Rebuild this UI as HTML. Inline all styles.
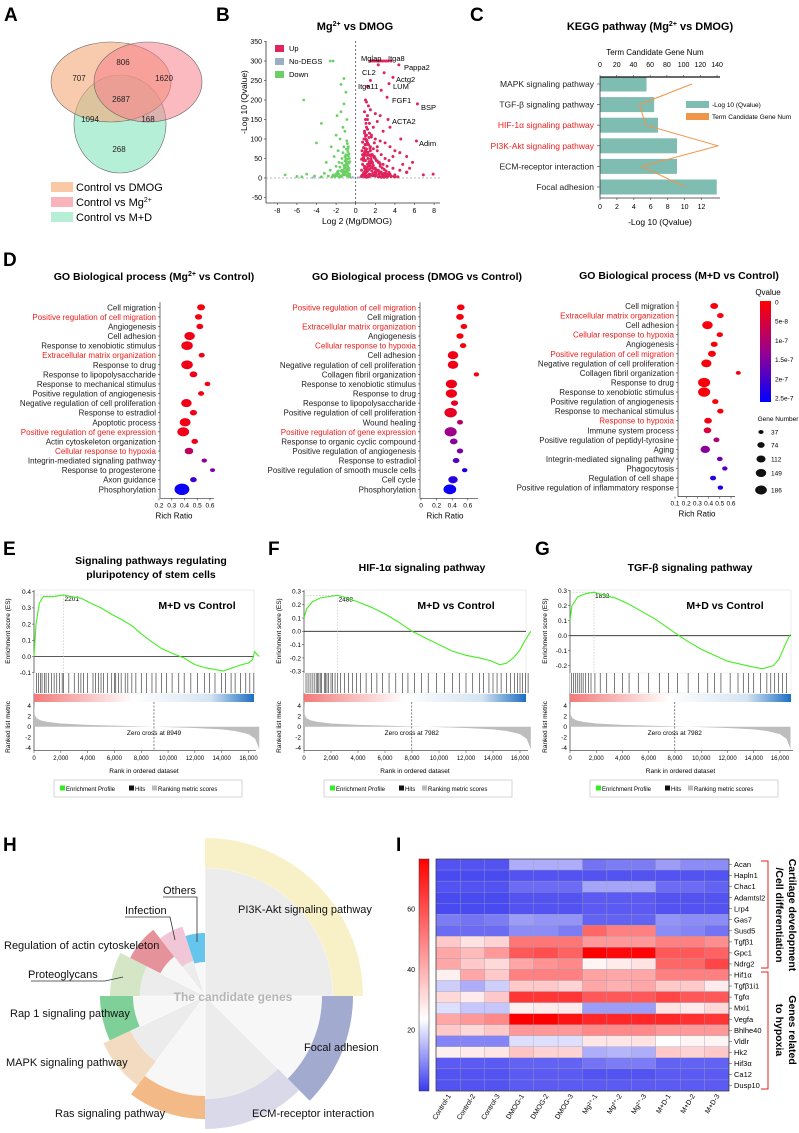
<!DOCTYPE html>
<html><head><meta charset="utf-8"><style>
html,body{margin:0;padding:0;background:#fff;}
svg{display:block;font-family:"Liberation Sans",Arial,sans-serif;}
</style></head><body>
<svg id="fig" width="799" height="1133" viewBox="0 0 799 1133" xmlns="http://www.w3.org/2000/svg">
<defs>
<linearGradient id="qgrad" x1="0" y1="0" x2="0" y2="1"><stop offset="0" stop-color="#ff0000"/><stop offset="0.5" stop-color="#9a0090"/><stop offset="1" stop-color="#0000ff"/></linearGradient>
<linearGradient id="hmgrad" x1="0" y1="0" x2="0" y2="1"><stop offset="0" stop-color="#ff0000"/><stop offset="0.69" stop-color="#ffffff"/><stop offset="1" stop-color="#3a3af0"/></linearGradient>
<linearGradient id="rankgrad" x1="0" y1="0" x2="1" y2="0"><stop offset="0" stop-color="#f27a7a"/><stop offset="0.45" stop-color="#ffffff"/><stop offset="0.8" stop-color="#d6e4f2"/><stop offset="1" stop-color="#1c6fc2"/></linearGradient>
</defs>
<g font-weight="bold" font-size="19">
<text x="4" y="21">A</text>
<text x="216" y="21">B</text>
<text x="470" y="21">C</text>
<text x="3" y="266">D</text>
<text x="3" y="555">E</text>
<text x="268" y="555">F</text>
<text x="535" y="555">G</text>
<text x="3" y="851">H</text>
<text x="396" y="851">I</text>
</g>
<g stroke="#666" stroke-width="0.6">
<ellipse cx="120" cy="124" rx="46" ry="49" fill="#8fe7c2" fill-opacity="0.65"/>
<ellipse cx="111" cy="82" rx="60" ry="40" fill="#f5a978" fill-opacity="0.6"/>
<ellipse cx="148" cy="82" rx="54" ry="40" fill="#f77f8c" fill-opacity="0.55"/>
</g>
<g font-size="8" text-anchor="middle" fill="#222">
<text x="79" y="81">707</text>
<text x="123" y="65">806</text>
<text x="164" y="81">1620</text>
<text x="121" y="102">2687</text>
<text x="90" y="122">1094</text>
<text x="148" y="122">168</text>
<text x="119" y="152">268</text>
</g>
<g font-size="11">
<rect x="51" y="182" width="22" height="10" fill="#f9c9a5"/>
<text x="76" y="191">Control vs DMOG</text>
<rect x="51" y="197" width="22" height="10" fill="#f9b4bb"/>
<text x="76" y="206">Control vs Mg<tspan font-size="7" dy="-4">2+</tspan></text>
<rect x="51" y="212" width="22" height="10" fill="#b7eed6"/>
<text x="76" y="221">Control vs M+D</text>
</g>
<text x="355" y="30" font-size="11" font-weight="bold" text-anchor="middle">Mg<tspan font-size="7" dy="-4">2+</tspan><tspan dy="4"> vs DMOG</tspan></text>
<text transform="translate(247,102) rotate(-90)" font-size="8.5" text-anchor="middle">-Log 10 (Qvalue)</text>
<text x="357" y="224" font-size="8.5" text-anchor="middle">Log 2 (Mg/DMOG)</text>
<g font-size="7.5">
<rect x="275" y="45" width="9" height="7" fill="#e0245e"/><text x="289" y="51">Up</text>
<rect x="275" y="58" width="9" height="7" fill="#9aaec4"/><text x="289" y="64">No-DEGS</text>
<rect x="275" y="71" width="9" height="7" fill="#6cd067"/><text x="289" y="77">Down</text>
</g>
<g id="volcano"></g>
<text x="650" y="30" font-size="11" font-weight="bold" text-anchor="middle">KEGG pathway (Mg<tspan font-size="7" dy="-4">2+</tspan><tspan dy="4"> vs DMOG)</tspan></text>
<text x="655" y="55" font-size="8" text-anchor="middle">Term Candidate Gene Num</text>
<text x="660" y="225" font-size="8.5" text-anchor="middle">-Log 10 (Qvalue)</text>
<g font-size="6.5">
<rect x="686" y="101" width="23" height="7" fill="#7fbcb1"/><text x="712" y="107">-Log 10 (Qvalue)</text>
<rect x="686" y="113" width="23" height="7" fill="#f0954a"/><text x="712" y="119">Term Candidate Gene Num</text>
</g>
<g id="kegg"></g>
<g font-size="10.5" font-weight="bold" text-anchor="middle">
<text x="154" y="280">GO Biological process (Mg<tspan font-size="7" dy="-4">2+</tspan><tspan dy="4"> vs  Control)</tspan></text>
<text x="417" y="280">GO Biological process (DMOG vs  Control)</text>
<text x="679" y="279">GO Biological process (M+D vs  Control)</text>
</g>
<g id="go"></g>
<text x="768" y="295" font-size="8" text-anchor="middle">Qvalue</text>
<rect x="760" y="301" width="11" height="101" fill="url(#qgrad)"/>
<text x="778" y="421" font-size="6.5" text-anchor="middle">Gene Number</text>
<g font-size="10.5" font-weight="bold" text-anchor="middle">
<text x="151" y="564">Signaling pathways regulating</text>
<text x="151" y="578">pluripotency of stem cells</text>
<text x="422" y="571">HIF-1α signaling pathway</text>
<text x="690" y="571">TGF-β signaling pathway</text>
</g>
<g id="gsea"></g>
<g id="rose"></g>
<text x="233" y="1001" font-size="12" font-weight="bold" fill="#b5b5b5" text-anchor="middle">The candidate genes</text>
<g font-size="11" fill="#111">
<text x="238" y="913">PI3K-Akt signaling pathway</text>
<text x="304" y="1051">Focal adhesion</text>
<text x="252" y="1117">ECM-receptor interaction</text>
<text x="55" y="1117">Ras signaling pathway</text>
<text x="6" y="1066">MAPK signaling pathway</text>
<text x="10" y="1017">Rap 1 signaling pathway</text>
<text x="28" y="978">Proteoglycans</text>
<text x="4" y="949">Regulation of actin cytoskeleton</text>
<text x="125" y="914">Infection</text>
<text x="163" y="894">Others</text>
</g>
<g stroke="#333" stroke-width="0.8" fill="none">
<polyline points="163,897 197,897 197,942"/>
<polyline points="125,917 170,917 175,940"/>
<polyline points="31,981 105,981 123,977"/>
</g>
<rect x="419" y="859" width="10" height="232" fill="url(#hmgrad)" stroke="#333" stroke-width="0.5"/>
<g id="heat"></g>
<g stroke="#e0201e" stroke-width="1" fill="none">
<polyline points="761,861 768,861 768,968 761,968"/>
<polyline points="761,972 768,972 768,1089 761,1089"/>
</g>
<g font-size="10.5" font-weight="bold" text-anchor="middle">
<text transform="translate(789,915) rotate(90)">Cartilage development</text>
<text transform="translate(776,915) rotate(90)">/Cell differentiation</text>
<text transform="translate(789,1030) rotate(90)">Genes related</text>
<text transform="translate(776,1030) rotate(90)">to hypoxia</text>
</g>
</svg>
<script>
const NS='http://www.w3.org/2000/svg';
function mk(tag,attrs,parent){const e=document.createElementNS(NS,tag);for(const k in attrs)e.setAttribute(k,attrs[k]);parent.appendChild(e);return e;}
function txt(str,attrs,parent){const e=mk('text',attrs,parent);e.textContent=str;return e;}

const volcanoXTicks=[-8,-6,-4,-2,0,2,4,6,8];
const volcanoYTicks=[350,300,250,200,150,100,50,0,-50];
const upX=[1.5,1.7,1.9,2.1,2.3,2.5,2.7,2.9,3.1,3.3,3.6,4.4,2.3,2.9,3.8,1.5,3.4,2.6,1.2,3.2,6.3,3.3,6.2,7.9,6.9,5.2,1.0,1.1,1.3,0.9,1.2,1.5,2.0,2.5,1.0,1.4,1.8,2.2,2.8,1.1,0.9,1.6,2.0,2.5,3.0,3.5,4.0,4.5,3.8,1.0,1.2,1.5,1.8,2.2,2.6,3.0,3.4,1.0,1.3,1.6,2.0,2.4,2.8,3.2,3.8,4.5,5.2,5.8,4.8,1.0,1.2,1.5,1.8,2.1,2.5,3.0,3.5,4.0,0.9,1.1,1.4,1.7,2.0,2.4,2.8,1.0,1.3,0.8,3.5,4.6,5.2,5.5,0.7,0.8,0.9,1.0,1.1,1.2,0.6,0.7,0.8,0.9,1.0,1.1,1.3,1.5,1.7,1.9,2.1,2.3,1.4,1.6,1.9,2.2,0.6,0.8,1.0,1.2,1.4,1.7,2.0,2.3,2.6,2.9,3.2,0.9,1.2,1.5,1.8,2.1,2.4,2.7,3.0,3.3,3.6,4.0,4.3,1.1,1.4,1.7,2.0,2.3,2.6,2.9,3.2,
0.6,0.7,0.8,0.9,1.0,1.1,1.2,1.3,1.4,1.5,1.6,1.7,1.8,1.9,2.0,2.1,0.6,0.75,0.85,0.95,1.05,1.15,1.25,1.35,1.45,1.55,1.65,1.75,1.85,0.65,0.8,0.95,1.1,1.25,1.4,1.55,1.7,0.7,0.85,1.0,1.15,1.3,1.45,2.2,2.4,2.6,2.8,3.0,3.3,3.6,3.9,2.5,2.7,2.9,3.1,3.4,1.6,1.9,2.2,2.5,1.05,1.2,0.9,1.35];
const upY=[300,300,300,300,300,300,300,300,300,300,300,290,290,270,258,250,242,225,235,207,190,150,95,10,8,14,200,195,185,170,160,175,165,160,150,140,130,145,120,130,115,110,100,95,90,80,70,65,55,100,90,80,75,70,60,50,45,70,60,55,50,40,35,30,25,20,15,40,35,45,35,30,25,20,15,12,10,8,25,15,10,8,5,4,3,5,3,10,130,100,55,25,60,45,30,85,110,125,20,35,50,65,75,95,85,70,60,55,45,40,115,105,90,80,5,8,12,18,22,28,25,20,15,12,10,3,6,9,12,14,10,8,6,5,4,3,3,2,4,6,8,3,2,2,2,
4,8,12,16,20,24,28,32,36,40,44,40,32,24,16,8,48,52,56,62,66,58,50,42,34,26,18,10,6,70,78,86,74,66,58,48,38,92,100,108,96,86,76,20,16,12,9,7,6,5,4,30,26,22,18,14,60,52,44,36,140,150,120,104];
const downX=[-2.3,-2.6,-5.3,-1.2,-1.5,-3.5,-4,-7.2,-5.5,-4.2,-1.0,-1.2,-1.5,-0.9,-1.3,-2.0,-1.1,-1.6,-2.5,-0.9,-1.2,-1.8,-2.2,-3.0,-1.0,-1.4,-1.7,-2.0,-2.6,-3.2,-0.8,-1.1,-1.4,-1.8,-2.3,-0.9,-1.2,-0.8,-1.5,-2.8,-3.5,-5,-6,-0.8,-0.7,-1.9,-0.6,-0.7,-0.9,-1.0,-1.1,-1.3,-0.6,-0.8,-1.0,-1.2,-1.4,-1.6,-0.7,-0.9,-1.1,-1.3,-1.5,-1.7,-1.9,-2.1,-2.4,
-0.6,-0.7,-0.8,-0.9,-1.0,-1.1,-1.2,-1.3,-1.4,-1.5,-1.6,-1.7,-0.65,-0.75,-0.85,-0.95,-1.05,-1.15,-1.25,-1.35,-0.7,-0.8,-0.9,-1.0,-1.1,-0.75,-0.85,-0.95,-1.9,-2.0,-2.2,-1.8];
const downY=[300,300,200,255,240,140,90,8,3,5,220,190,170,150,130,110,120,100,80,95,80,70,55,40,60,50,40,30,20,12,40,30,20,12,8,15,8,5,4,5,3,10,4,75,25,160,10,20,35,45,55,65,5,12,25,32,38,28,3,6,9,14,18,10,6,4,3,
42,38,30,22,18,14,10,8,6,4,3,2,50,56,48,40,34,26,20,16,62,68,58,50,44,80,88,74,14,10,6,18];
const grayX=[-0.5,-0.3,0.2,0.4,-3.6,-4.4];
const grayY=[1,2,1,2,2,1];
(function(){
  const g=document.getElementById('volcano');
  const xs=v=>355.7+9.8*v, ys=v=>178-0.39*v;
  const ax=mk('line',{x1:266,y1:41,x2:266,y2:203,stroke:'#333','stroke-width':0.8},g);
  
  
  const bx=mk('line',{x1:266,y1:203,x2:440,y2:203,stroke:'#333','stroke-width':0.8},g);
  
  
  volcanoYTicks.forEach(v=>{
    const t=txt(String(v),{x:262,y:ys(v)+2.5,'font-size':7,'text-anchor':'end'},g);
    
    
    mk('line',{x1:264,y1:ys(v),x2:266,y2:ys(v),stroke:'#333','stroke-width':0.6},g);
  });
  volcanoXTicks.forEach(v=>{
    const t=txt(String(v),{x:xs(v),y:213,'font-size':7,'text-anchor':'middle'},g);
    
    
    mk('line',{x1:xs(v),y1:203,x2:xs(v),y2:205,stroke:'#333','stroke-width':0.6},g);
  });
  const h=mk('line',{x1:266,y1:ys(0),x2:440,y2:ys(0),stroke:'#777','stroke-width':0.6,'stroke-dasharray':'2,2'},g);
  
  const vl=mk('line',{x1:xs(0),y1:41,x2:xs(0),y2:203,stroke:'#333','stroke-width':0.7,'stroke-dasharray':'2,2'},g);
  
  grayX.forEach((x,i)=>{const c=mk('circle',{cx:xs(x),cy:ys(grayY[i]),r:1.1,fill:'#9aaec4'},g);
    });
  downX.forEach((x,i)=>{const c=mk('circle',{cx:xs(x),cy:ys(downY[i]),r:1.4,fill:'#6cd067'},g);
    });
  upX.forEach((x,i)=>{const c=mk('circle',{cx:xs(x),cy:ys(upY[i]),r:1.5,fill:'#e0245e'},g);
    });
  const labs=[['Mglap',361,61],['Itga8',388,61],['Pappa2',404,70],['CL2',362,75],['Actg2',396,82],['Itga11',358,89],['LUM',393,89],['FGF1',392,103],['BSP',421,110],['ACTA2',392,124],['Adim',419,146]];
  labs.forEach(l=>{const t=txt(l[0],{x:l[1],y:l[2],'font-size':7.5},g);
    
    });
})();

const keggPathways=['MAPK signaling pathway','TGF-β signaling pathway','HIF-1α signaling pathway','PI3K-Akt signaling pathway','ECM-receptor interaction','Focal adhesion'];
const keggLogQ=[5.5,6.4,6.85,9.1,9.1,13.8];
const keggGeneNum=[110,47,55,141,50,102];
const keggQTicks=[0,2,4,6,8,10,12];
const keggGeneTicks=[0,20,40,60,80,100,120,140];
(function(){
  const g=document.getElementById('kegg');
  const xq=v=>600+8.46*v, xn=v=>600+0.836*v, yc=i=>84+i*20.6;
  keggPathways.forEach((p,i)=>{
    const b=mk('rect',{x:600,y:yc(i)-7.5,width:xq(keggLogQ[i])-600,height:15,fill:'#7fbcb1'},g);
    
    
    const red=(i==2||i==3);
    const t=txt(p,{x:594,y:yc(i)+3,'font-size':8.5,'text-anchor':'end',fill:red?'#ee1c1c':'#222'},g);
    
    
    mk('line',{x1:597,y1:yc(i),x2:600,y2:yc(i),stroke:'#333','stroke-width':0.6},g);
  });
  const pts=keggGeneNum.map((n,i)=>xn(n)+','+yc(i)).join(' ');
  const ln=mk('polyline',{points:pts,fill:'none',stroke:'#f0954a','stroke-width':1},g);
  
  
  const l1=mk('line',{x1:600,y1:77,x2:600,y2:198,stroke:'#333','stroke-width':0.8},g);
  
  const l2=mk('line',{x1:600,y1:198,x2:720,y2:198,stroke:'#333','stroke-width':0.8},g);
  
  const l3=mk('line',{x1:600,y1:77,x2:720,y2:77,stroke:'#111','stroke-width':1.2},g);
  
  keggQTicks.forEach(v=>{
    const t=txt(String(v),{x:xq(v),y:209,'font-size':7,'text-anchor':'middle'},g);
    
    
    mk('line',{x1:xq(v),y1:198,x2:xq(v),y2:200,stroke:'#333','stroke-width':0.6},g);
  });
  keggGeneTicks.forEach(v=>{
    const t=txt(String(v),{x:xn(v),y:67,'font-size':7,'text-anchor':'middle'},g);
    
    
    mk('line',{x1:xn(v),y1:75,x2:xn(v),y2:77,stroke:'#333','stroke-width':0.6},g);
  });
})();

const goTerms1=['Cell migration','Positive regulation of cell migration','Angiogenesis','Cell adhesion','Response to xenobiotic stimulus','Extracellular matrix organization','Response to drug','Response to lipopolysaccharide','Response to mechanical stimulus','Positive regulation of angiogenesis','Negative regulation of cell proliferation','Response to estradiol','Apoptotic process','Positive regulation of gene expression','Actin cytoskeleton organization','Cellular response to hypoxia','Integrin-mediated signaling pathway','Response to progesterone','Axon guidance','Phosphorylation'];
const goRed1=[1,5,13,15];
const goRich1=[.53,.51,.52,.44,.42,.535,.42,.47,.58,.53,.415,.47,.405,.39,.48,.435,.555,.62,.47,.38];
const goGenes1=[85,70,65,150,180,50,180,80,45,50,150,70,160,190,60,100,40,35,60,300];
const goQ1=[0.1,0.15,0.15,0.2,0.2,0.15,0.2,0.2,0.15,0.15,0.2,0.2,0.2,0.2,0.2,0.8,1.3,1.5,2.0,2.4];
const goTerms2=['Positive regulation of cell migration','Cell migration','Extracellular matrix organization','Angiogenesis','Cellular response to hypoxia','Cell adhesion','Negative regulation of cell proliferation','Collagen fibril organization','Response to xenobiotic stimulus','Response to drug','Response to lipopolysaccharide','Positive regulation of cell proliferation','Wound healing','Positive regulation of gene expression','Response to organic cyclic compound','Positive regulation of angiogenesis','Response to estradiol','Positive regulation of smooth muscle cells','Cell cycle','Phosphorylation'];
const goRed2=[0,2,4,13];
const goRich2=[.51,.50,.55,.50,.54,.41,.41,.71,.39,.39,.43,.38,.50,.38,.42,.50,.45,.56,.41,.37];
const goGenes2=[80,80,60,70,55,150,150,40,170,170,70,210,50,200,80,55,60,40,120,220];
const goQ2=[0.1,0.1,0.1,0.1,0.1,0.2,0.2,0.1,0.2,0.2,0.3,0.3,0.9,1.2,1.4,1.5,1.8,2.3,2.2,2.4];
const goTerms3=['Cell migration','Extracellular matrix organization','Cell adhesion','Cellular response to hypoxia','Angiogenesis','Positive regulation of cell migration','Negative regulation of cell proliferation','Collagen fibril organization','Response to drug','Response to xenobiotic stimulus','Positive regulation of angiogenesis','Response to mechanical stimulus','Response to hypoxia','Immune system process','Positive regulation of peptidyl-tyrosine','Aging','Integrin-mediated signaling pathway','Phagocytosis','Regulation of cell shape','Positive regulation of inflammatory response'];
const goRed3=[1,3,5,12];
const goRich3=[.45,.505,.39,.50,.45,.43,.38,.665,.36,.36,.46,.505,.395,.39,.47,.37,.50,.545,.44,.505];
const goGenes3=[85,60,150,55,65,85,140,35,200,200,55,55,80,80,50,120,45,40,50,40];
const goQ3=[0.1,0.1,0.1,0.1,0.1,0.1,0.1,0.1,0.1,0.1,0.1,0.1,0.2,0.5,1.0,1.4,1.6,1.8,2.2,2.3];
const goTicks1=[0.2,0.3,0.4,0.5,0.6];
const goTicks2=[0,0.2,0.4,0.6];
const goTicks3=[0.1,0.2,0.3,0.4,0.5,0.6];
const qLegendTicks=['0','5e-8','1e-7','1.5e-7','2e-7','2.5e-7'];
const geneLegend=[37,74,112,149,186];
function qColor(q){const t=Math.min(1,q/2.5);let r,gg,b;
  if(t<0.5){const s=t/0.5;r=255+(154-255)*s;gg=0;b=144*s;}else{const s=(t-0.5)/0.5;r=154*(1-s);gg=0;b=144+(255-144)*s;}
  return 'rgb('+Math.round(r)+','+Math.round(gg)+','+Math.round(b)+')';}
function bubR(n){return 0.33*Math.sqrt(n);}
function drawGO(terms,red,rich,genes,q,ticks,axisX,xs,y0,step,xEnd,rrX){
  const g=document.getElementById('go');
  terms.forEach((t,i)=>{
    const y=y0+i*step;
    const lab=txt(t,{x:axisX-4,y:y+3,'font-size':8,'text-anchor':'end',fill:red.includes(i)?'#ee1c1c':'#222'},g);
    
    
    mk('line',{x1:axisX-2,y1:y,x2:axisX,y2:y,stroke:'#333','stroke-width':0.6},g);
    const r=bubR(genes[i]);
    const b=mk('ellipse',{cx:xs(rich[i]),cy:y,rx:r*1.3,ry:r,fill:qColor(q[i])},g);
    
    
  });
  const yb=y0+(terms.length-1)*step+9;
  const a1=mk('line',{x1:axisX,y1:y0-5,x2:axisX,y2:yb,stroke:'#333','stroke-width':0.7},g);
  
  const a2=mk('line',{x1:axisX,y1:yb,x2:xEnd,y2:yb,stroke:'#333','stroke-width':0.7},g);
  
  ticks.forEach(v=>{
    const t=txt(String(v),{x:xs(v),y:yb+9,'font-size':6.5,'text-anchor':'middle'},g);
    
    
    mk('line',{x1:xs(v),y1:yb,x2:xs(v),y2:yb+2,stroke:'#333','stroke-width':0.6},g);
  });
  const rr=txt('Rich Ratio',{x:rrX,y:yb+20,'font-size':8,'text-anchor':'middle'},g);
  
  
}
drawGO(goTerms1,goRed1,goRich1,goGenes1,goQ1,goTicks1,160,v=>159+(v-0.2)*127.5,307.3,9.58,214,174);
drawGO(goTerms2,goRed2,goRich2,goGenes2,goQ2,goTicks2,420,v=>421+78*v,307.3,9.58,478,445);
drawGO(goTerms3,goRed3,goRich3,goGenes3,goQ3,goTicks3,678,v=>675+(v-0.1)*112,306,9.56,735,697);
(function(){
  const g=document.getElementById('go');
  qLegendTicks.forEach((s,i)=>{
    const y=302+i*19.2;
    const t=txt(s,{x:775,y:y+2.5,'font-size':6.5},g);
    
    
  });
  const gy=[432,445,459,473,490];
  geneLegend.forEach((n,i)=>{
    const r=bubR(n);
    const c=mk('ellipse',{cx:761,cy:gy[i],rx:r*1.3,ry:r,fill:'#111'},g);
    
    const t=txt(String(n),{x:771,y:gy[i]+2.5,'font-size':6.5},g);
    
    
  });
})();

const esRanksE=[0,150,400,700,1000,1500,2201,2800,3500,4200,5000,5800,6500,7300,8000,8800,9500,10300,11200,12000,12800,13500,14100,14800,15500,16000,16300,16450,16800];
const esValsE=[0,0.2,0.33,0.37,0.37,0.37,0.38,0.37,0.36,0.33,0.3,0.26,0.23,0.19,0.14,0.09,0.05,0.02,-0.01,-0.05,-0.07,-0.08,-0.09,-0.07,-0.05,-0.04,-0.02,0.03,0.0];
const hitsE=[200,350,500,600,800,900,1100,1300,1500,1700,1900,2100,2200,2600,3000,3300,3500,3700,4000,4400,4600,4800,5000,5200,5500,5800,6000,6100,6300,6500,6800,7000,7300,7600,8000,8400,8800,9100,9500,9900,10300,10800,11200,11700,12200,12700,13100,13500,14000,14300,14700,15000,15400,15800,16100,16400];
const esRanksF=[0,200,600,1200,1800,2488,3200,4000,5000,6000,7000,8000,9000,10000,11000,12000,13000,13800,14500,15000,15500,16000,16300,16800];
const esValsF=[0.1,0.17,0.22,0.25,0.26,0.27,0.25,0.22,0.18,0.13,0.07,0.0,-0.05,-0.1,-0.15,-0.18,-0.2,-0.22,-0.25,-0.24,-0.2,-0.14,-0.08,0.0];
const hitsF=[150,300,450,600,750,900,1000,1100,1200,1300,1500,1600,1700,1800,2000,2100,2300,2500,2700,3000,3300,3600,3900,4200,4600,5000,5400,5800,6300,6800,7300,7700,8200,8700,9200,9800,10400,11000,11500,12000,12500,13000,13300,13700,14000,14300,14600,15000,15300,15600,15800,16000,16200,16400,16600];
const esRanksG=[0,150,600,1200,1833,2600,3500,4500,5500,6500,7500,8300,9200,10000,11000,12000,13000,14000,14700,15500,15900,16200,16500,16800];
const esValsG=[0.1,0.2,0.26,0.28,0.29,0.27,0.25,0.21,0.16,0.11,0.05,0.0,-0.05,-0.09,-0.13,-0.17,-0.19,-0.21,-0.22,-0.2,-0.16,-0.1,-0.04,0.01];
const hitsG=[100,250,400,550,700,850,1000,1200,1400,1600,1900,2300,2800,3400,4000,4500,5200,6000,6800,7500,8200,9000,9800,10500,11000,11500,12200,12800,13200,13600,14000,14500,15000,15300,15600,15900,16200,16500];
const metricRanks=[0,60,200,500,1000,2000,4000,6000,8000,9000,10000,12000,14000,15000,16000,16500,16800];
const metricVals=[4.5,2.2,1.6,1.2,0.9,0.6,0.35,0.2,0.05,0,-0.08,-0.25,-0.5,-0.8,-1.4,-2.3,-4.2];
const peakRanks=[2201,2488,1833];
const zeroCross=[8949,7982,7982];
const rankTicks=[0,2000,4000,6000,8000,10000,12000,14000,16000];
const metricTicks=[4,2,0,-2,-4];
const esTicksE=[0.4,0.3,0.2,0.1,0.0,-0.1];
const esTicksF=[0.3,0.2,0.1,0.0,-0.1,-0.2,-0.3];
const esTicksG=[0.3,0.2,0.1,0.0,-0.1,-0.2];
function drawGSEA(k,x0,pxPer,x1,ys,esTicks,ranks,vals,hits,mdX,ttlX,legX){
  const g=document.getElementById('gsea');
  const xs=r=>x0+r*pxPer;
  const ym=m=>726.7-5.3*m;
  const top=590;
  const ya=mk('line',{x1:x0,y1:top,x2:x0,y2:750.7,stroke:'#333','stroke-width':0.7},g);
  
  mk('line',{x1:x0,y1:top,x2:x1,y2:top,stroke:'#ddd','stroke-width':0.5},g);
  mk('line',{x1:x1,y1:top,x2:x1,y2:673,stroke:'#ddd','stroke-width':0.5},g);
  const zl=mk('line',{x1:x0,y1:ys(0),x2:x1,y2:ys(0),stroke:'#222','stroke-width':0.8},g);
  
  esTicks.forEach(v=>{
    const t=txt(v.toFixed(1),{x:x0-3,y:ys(v)+2.3,'font-size':6.5,'text-anchor':'end'},g);
    
    
    mk('line',{x1:x0-2,y1:ys(v),x2:x0,y2:ys(v),stroke:'#333','stroke-width':0.5},g);
  });
  const pk=peakRanks[k];
  let pv=vals[0];ranks.forEach((r,i)=>{if(Math.abs(r-pk)<1)pv=vals[i];});
  mk('polyline',{points:x0+','+ys(pv)+' '+xs(pk)+','+ys(pv)+' '+xs(pk)+','+673,fill:'none',stroke:'#bbb','stroke-width':0.6,'stroke-dasharray':'1.5,1.5'},g);
  const pt=txt(String(pk),{x:xs(pk)+1,y:ys(pv)+6,'font-size':6.5},g);
  
  
  const es=mk('polyline',{points:ranks.map((r,i)=>xs(r)+','+ys(vals[i])).join(' '),fill:'none',stroke:'#44ee22','stroke-width':1.1},g);
  
  
  const band=mk('rect',{x:x0,y:673,width:x1-x0,height:20,fill:'#fff',stroke:'#ddd','stroke-width':0.4},g);
  
  hits.forEach(h=>{const l=mk('line',{x1:xs(h),y1:673,x2:xs(h),y2:693,stroke:'#111','stroke-width':0.55},g);
    });
  const cb=mk('rect',{x:x0,y:694,width:x1-x0,height:8,fill:'url(#rankgrad)'},g);
  
  let pts=xs(0)+','+ym(0)+' ';
  pts+=metricRanks.map((r,i)=>xs(r)+','+ym(metricVals[i])).join(' ');
  pts+=' '+xs(metricRanks[metricRanks.length-1])+','+ym(0);
  const ar=mk('polygon',{points:pts,fill:'#bdbdbd'},g);
  
  
  metricTicks.forEach(v=>{
    const t=txt(String(v),{x:x0-3,y:ym(v)+2.3,'font-size':6.5,'text-anchor':'end'},g);
    
    
  });
  const zc=zeroCross[k];
  mk('line',{x1:xs(zc),y1:702,x2:xs(zc),y2:750,stroke:'#333','stroke-width':0.6,'stroke-dasharray':'2,1.5'},g);
  const zt=txt('Zero cross at '+zc,{x:xs(zc),y:735,'font-size':6.5,'text-anchor':'middle'},g);
  
  
  const xa=mk('line',{x1:x0,y1:750.7,x2:x1+2,y2:750.7,stroke:'#333','stroke-width':0.7},g);
  
  rankTicks.forEach(r=>{
    const t=txt(r.toLocaleString('en-US'),{x:xs(r),y:760,'font-size':6,'text-anchor':'middle'},g);
    
    
    mk('line',{x1:xs(r),y1:750.7,x2:xs(r),y2:753,stroke:'#333','stroke-width':0.5},g);
  });
  const xt=txt('Rank in ordered dataset',{x:(x0+x1)/2,y:773,'font-size':6.5,'text-anchor':'middle'},g);
  
  
  const y1t=txt('Enrichment score (ES)',{transform:'translate('+(ttlX)+',631) rotate(-90)','font-size':6.5,'text-anchor':'middle'},g);
  
  
  const y2t=txt('Ranked list metric',{transform:'translate('+(ttlX)+',727) rotate(-90)','font-size':6.5,'text-anchor':'middle'},g);
  
  
  const md=txt('M+D vs  Control',{x:mdX,y:609,'font-size':10.5,'font-weight':'bold','text-anchor':'middle'},g);
  
  
  const lb=mk('rect',{x:legX,y:780,width:188,height:17,fill:'#fff',stroke:'#ccc','stroke-width':0.8},g);
  
  
  const items=[['Enrichment Profile','#33ee22',6],['Hits','#111',75],['Ranking metric scores','#bbb',98]];
  items.forEach(it=>{
    const s=mk('rect',{x:legX+it[2],y:785.5,width:5,height:5,fill:it[1]},g);
    
    const t=txt(it[0],{x:legX+it[2]+6,y:791,'font-size':6},g);
    
    
  });
}
drawGSEA(0,34,214.5/16000,254,v=>656.5-162*v,esTicksE,esRanksE,esValsE,hitsE,197,10,54);
drawGSEA(1,304,216/16000,526,v=>631.3-133.3*v,esTicksF,esRanksF,esValsF,hitsF,456,281,324);
drawGSEA(2,570,210/16000,791,v=>635.7-150*v,esTicksG,esRanksG,esValsG,hitsG,725,547,590);

const roseNames=['PI3K-Akt','Focal adhesion','ECM-receptor','Ras','MAPK','Rap1','Proteoglycans','Actin cytoskeleton','Infection','Others'];
const roseSpan=[90,45,45,37,28,25,27,25,20,18];
const roseInner=[128,117,103,100,82,72,65,50,37,34];
const roseOuter=[158,148,133,123,112,105,95,84,73,63];
const roseColors=['#f8f1c8','#a3aad0','#d9d9ea','#f3b987','#f2dbc0','#7fcf98','#d5e6c7','#e5929b','#f1c6d7','#66c5ec'];
(function(){
  const g=document.getElementById('rose');
  const cx=205,cy=996;
  const P=(a,r)=>{const t=a*Math.PI/180;return (cx+Math.sin(t)*r).toFixed(1)+','+(cy-Math.cos(t)*r).toFixed(1);};
  function arcPts(a0,a1,r){const o=[];const n=Math.max(4,Math.ceil((a1-a0)/2));for(let i=0;i<=n;i++)o.push(P(a0+(a1-a0)*i/n,r));return o;}
  let a=0;
  roseSpan.forEach((s,i)=>{
    const a0=a,a1=a+s;
    const inner=mk('polygon',{points:[cx+','+cy].concat(arcPts(a0,a1,roseInner[i])).join(' '),fill:i%2?'#f7f7f7':'#ececec',stroke:'#fff','stroke-width':0.5},g);
    
    
    const outer=arcPts(a0,a1,roseOuter[i]).concat(arcPts(a0,a1,roseInner[i]).reverse());
    const band=mk('polygon',{points:outer.join(' '),fill:roseColors[i]},g);
    
    
    a=a1;
  });
})();

const heatGenes=['Acan','Hapln1','Chac1','Adamtsl2','Lrp4','Gas7','Susd5','Tgfβ1','Gpc1','Ndrg2','Hif1α','Tgfβ1i1','Tgfα','Mxi1','Vegfa','Bhlhe40','Vldlr','Hk2','Hif3α','Ca12','Dusp10'];
const heatSamples=['Control-1','Control-2','Control-3','DMOG-1','DMOG-2','DMOG-3','Mg²⁺-1','Mg²⁺-2','Mg²⁺-3','M+D-1','M+D-2','M+D-3'];
const heatValues=[
[3,3,3,14,14,14,7,8,8,12,10,10],
[2,2,2,3,3,3,3,3,3,3,3,3],
[3,3,3,6,6,6,13,13,13,6,6,5],
[2,2,2,3,3,3,4,4,4,3,3,3],
[2,2,2,3,3,3,4,4,4,3,3,3],
[8,7,8,12,11,11,5,5,5,11,10,10],
[6,6,6,10,10,8,55,50,50,10,9,7],
[35,30,33,52,52,52,45,45,45,50,50,47],
[42,38,45,58,60,56,76,74,75,58,58,56],
[42,35,32,42,46,48,26,28,30,55,55,62],
[27,42,35,50,50,50,43,42,42,50,50,50],
[18,14,18,35,35,33,42,40,42,35,35,28],
[32,28,35,65,65,65,58,58,58,62,58,58],
[20,17,17,27,28,28,12,12,12,30,28,32],
[42,45,48,76,76,72,68,68,68,68,66,65],
[35,32,35,45,45,45,48,48,48,45,45,45],
[9,9,9,20,20,20,29,29,30,24,26,26],
[27,28,29,36,33,33,14,15,14,35,33,35],
[4,4,4,5,5,5,7,8,8,5,5,5],
[3,3,3,4,4,4,3,3,3,4,4,4],
[3,3,3,4,4,4,4,4,4,4,4,4]];
const heatTicks=[20,40,60];
function heatColor(v){const w=24,mx=76;let r,g,b;
  if(v<=w){const s=v/w;r=58+(255-58)*s;g=58+(255-58)*s;b=240+15*s;}
  else{const s=Math.min(1,(v-w)/(mx-w));r=255;g=255*(1-s);b=255*(1-s);}
  return 'rgb('+Math.round(r)+','+Math.round(g)+','+Math.round(b)+')';}
(function(){
  const g=document.getElementById('heat');
  const x0=436,y0=859,cw=(729-436)/12,rh=(1091-859)/21;
  heatValues.forEach((row,i)=>{
    row.forEach((v,j)=>{
      const c=mk('rect',{x:x0+j*cw,y:y0+i*rh,width:cw,height:rh,fill:heatColor(v),stroke:'#9a9ab0','stroke-width':0.3},g);
      
      
    });
    const t=txt(heatGenes[i],{x:734,y:y0+i*rh+rh/2+2.6,'font-size':7.5},g);
    
    
    mk('line',{x1:729,y1:y0+i*rh+rh/2,x2:732,y2:y0+i*rh+rh/2,stroke:'#333','stroke-width':0.5},g);
  });
  const fr=mk('rect',{x:x0,y:y0,width:729-x0,height:1091-y0,fill:'none',stroke:'#333','stroke-width':0.7},g);
  
  heatSamples.forEach((s,j)=>{
    const cx=x0+j*cw+cw/2;
    const t=txt(s,{transform:'translate('+(cx+3)+',1096) rotate(-58)','font-size':7,'text-anchor':'end'},g);
    
    
  });
  heatTicks.forEach(v=>{
    const y=1090.5-v*3.025;
    const t=txt(String(v),{x:415,y:y+2.5,'font-size':7,'text-anchor':'end'},g);
    
    
  });
})();
</script>
</body></html>
